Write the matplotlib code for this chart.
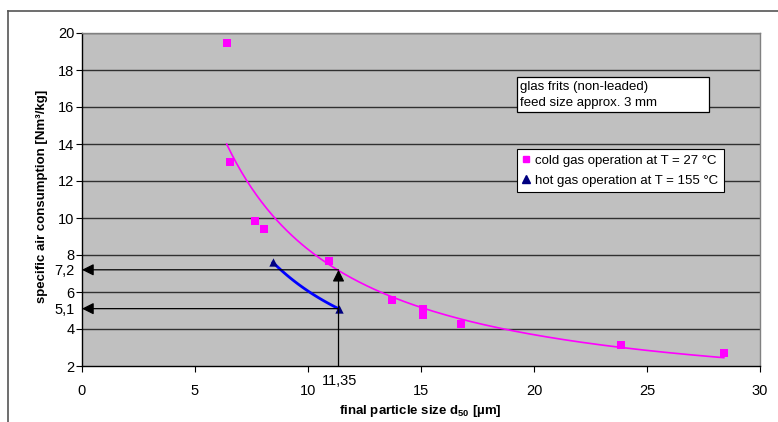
import numpy as np
import matplotlib
matplotlib.use("Agg")
import matplotlib.pyplot as plt
from matplotlib.patches import Rectangle
from matplotlib.lines import Line2D

plt.rcParams['font.family'] = ['Liberation Sans', 'DejaVu Sans']

# data
cold_x = [6.4, 6.55, 7.65, 8.05, 10.95, 13.7, 15.1, 15.1, 16.75, 23.85, 28.4]
cold_y = [19.45, 13.05, 9.85, 9.38, 7.7, 5.55, 5.08, 4.77, 4.27, 3.12, 2.7]
hot_x = [8.45, 11.35]
hot_y = [7.6, 5.1]
mark_x = 11.35
mark_y = [7.2, 5.1]
x_ticks = [0, 5, 10, 15, 20, 25, 30]
y_ticks = [2, 4, 6, 8, 10, 12, 14, 16, 18, 20]

W, H = 778, 422
fig = plt.figure(figsize=(W / 100, H / 100), dpi=100)
fig.patch.set_facecolor('white')

def fx(px):
    return px / W

def fy(py):
    return 1 - py / H

# outer chart border (top & left visible)
fig.add_artist(Line2D([fx(8), fx(8)], [0, fy(11)], transform=fig.transFigure,
                      color='#555555', lw=1.2))
fig.add_artist(Line2D([fx(8), 1.0], [fy(11), fy(11)], transform=fig.transFigure,
                      color='#555555', lw=1.2))

ax = fig.add_axes([fx(82), fy(366), (760 - 82) / W, (366 - 33) / H])
ax.set_facecolor('#C0C0C0')
ax.set_xlim(0, 30)
ax.set_ylim(2, 20)

# grid
for yv in y_ticks[1:]:
    ax.axhline(yv, color='#303030', lw=1.0, zorder=1)

# trend lines (power fits)
def power_fit(x, y):
    b, lna = np.polyfit(np.log(x), np.log(y), 1)
    return np.exp(lna), b

a_c, b_c = power_fit(cold_x, cold_y)
xs = np.linspace(min(cold_x), max(cold_x), 200)
ax.plot(xs, a_c * xs ** b_c, color='#FF00FF', lw=1.2, zorder=3)

a_h, b_h = power_fit(hot_x, hot_y)
xh = np.linspace(min(hot_x), max(hot_x), 100)
ax.plot(xh, a_h * xh ** b_h, color='#0000FF', lw=2.0, zorder=3)

ax.scatter(cold_x, cold_y, marker='s', s=38, color='#FF00FF', zorder=4, linewidths=0)
ax.scatter(hot_x, hot_y, marker='^', s=36, color='#000080', zorder=4, linewidths=0)

# arrows
aprops = dict(arrowstyle='-|>,head_length=0.7,head_width=0.35',
              color='black', lw=0.9, shrinkA=0, shrinkB=0)
for yv in mark_y:
    ax.annotate('', xy=(0, yv), xytext=(mark_x, yv), arrowprops=aprops,
                zorder=5, annotation_clip=False)
ax.annotate('', xy=(mark_x, mark_y[0]), xytext=(mark_x, 2), arrowprops=aprops,
            zorder=5, annotation_clip=False)

# ticks
ax.set_xticks(x_ticks)
ax.set_xticklabels([str(t) for t in x_ticks])
ax.set_yticks(y_ticks + mark_y)
ax.set_yticklabels([str(t) for t in y_ticks] + [f"{v:.1f}".replace('.', ',') for v in mark_y])
ax.tick_params(axis='both', labelsize=10.5, colors='black', length=4, width=0.8, direction='out')
ax.tick_params(axis='x', pad=9)
ax.tick_params(axis='y', pad=1.5)
for tl, t in zip(ax.yaxis.get_major_ticks(), y_ticks + mark_y):
    if t in mark_y:
        tl.tick1line.set_visible(False)

ax.text(mark_x + 0.05, -0.045, f"{mark_x:.2f}".replace('.', ','),
        transform=ax.get_xaxis_transform(), ha='center', va='center', fontsize=10.5)

for s in ['top', 'right']:
    ax.spines[s].set_color('#808080')
    ax.spines[s].set_linewidth(1.0)
ax.spines['left'].set_color('black')
ax.spines['bottom'].set_color('black')
ax.spines['left'].set_linewidth(1.0)
ax.spines['bottom'].set_linewidth(1.0)

fig.text(fx(420), fy(411), 'final particle size d$_{\\mathregular{50}}$ [µm]', fontsize=9.5,
         fontweight='bold', ha='center', va='center')
fig.text(fx(42), fy(196), 'specific air consumption [Nm³/kg]', fontsize=9.5,
         fontweight='bold', ha='center', va='center', rotation=90)

# info box
fig.add_artist(Rectangle((fx(517), fy(112.3)), fx(709.3) - fx(517), fy(77.3) - fy(112.3),
                         transform=fig.transFigure, facecolor='white', edgecolor='black',
                         lw=0.9, zorder=6))
fig.text(fx(520.5), fy(87), 'glas frits (non-leaded)', fontsize=9.5, ha='left', va='center',
         zorder=7)
fig.text(fx(520.5), fy(103), 'feed size approx. 3 mm', fontsize=9.5, ha='left', va='center',
         zorder=7)

# legend
handles = [Line2D([], [], marker='s', color='#FF00FF', ls='none', markersize=5),
           Line2D([], [], marker='^', color='#000080', ls='none', markersize=5.5)]
leg = ax.legend(handles, ['cold gas operation at T = 27 °C', 'hot gas operation at T = 155 °C'],
                loc='upper left', bbox_to_anchor=((517 - 82) / 678, 1 - (149 - 33) / 333),
                fontsize=9.5, frameon=True, fancybox=False, edgecolor='black',
                facecolor='white', framealpha=1.0,
                handlelength=0.6, handletextpad=0.4, borderpad=0.4, labelspacing=0.6,
                borderaxespad=0)
leg.get_frame().set_linewidth(0.8)
leg.set_zorder(6)

fig.savefig('out.png', dpi=100)
